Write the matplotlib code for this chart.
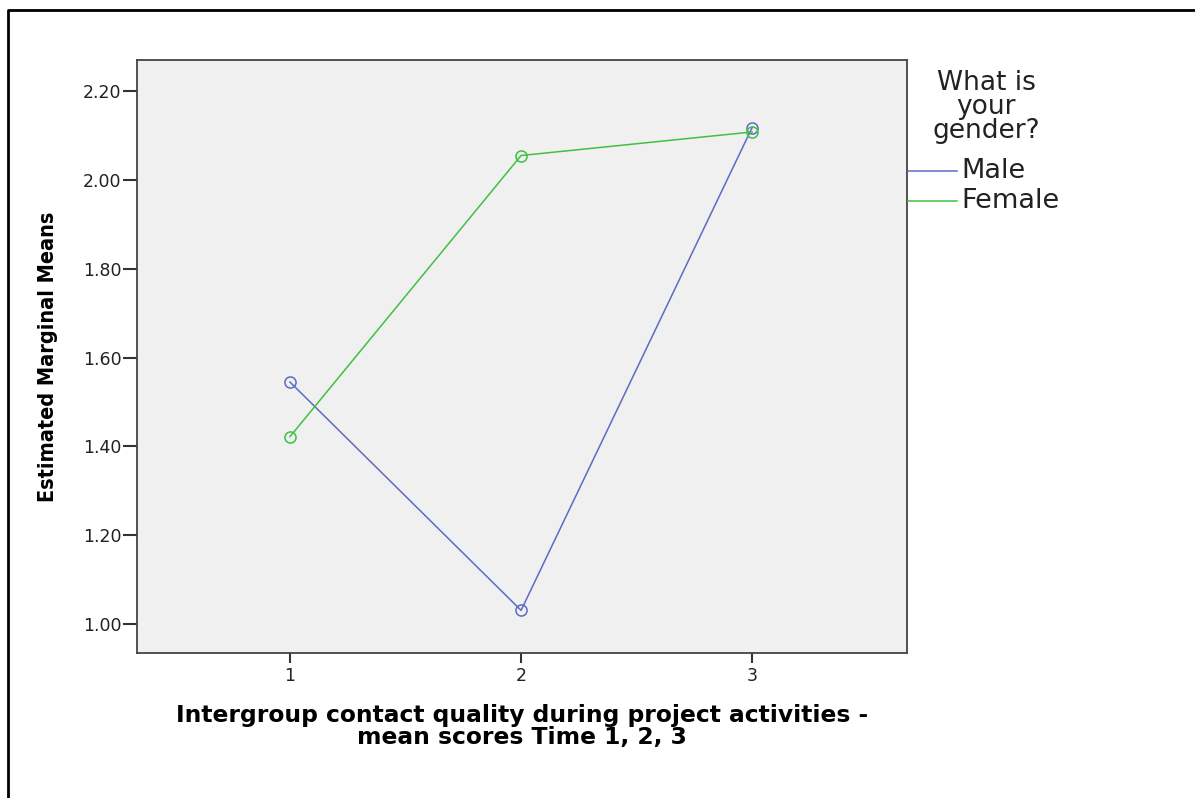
import matplotlib
matplotlib.use('Agg')
import matplotlib.pyplot as plt
from matplotlib.lines import Line2D

times = [1, 2, 3]
male = [1.545, 1.031, 2.118]
female = [1.422, 2.055, 2.108]
series = ['Male', 'Female']
colors = ['#5b6cc4', '#40c040']
yticks = [1.00, 1.20, 1.40, 1.60, 1.80, 2.00, 2.20]

plt.rcParams['font.family'] = ['DejaVu Sans']

fig = plt.figure(figsize=(11.95, 7.98), dpi=100)
ax = fig.add_axes([137/1195, 1-653/798, 770/1195, 593/798])
ax.set_facecolor('#f0f0f0')

for vals, c in zip([male, female], colors):
    ax.plot(times, vals, color=c, lw=1.1, marker='o', ms=8, mfc='none', mec=c, mew=1.1)

ax.set_xlim(0.338, 3.67)
ax.set_ylim(0.935, 2.27)
ax.set_xticks(times)
ax.set_xticklabels([str(t) for t in times])
ax.set_yticks(yticks)
ax.set_yticklabels(['%.2f' % v for v in yticks])
ax.tick_params(axis='both', direction='out', width=1.5, color='#333333',
               labelsize=12.5, labelcolor='#222222', pad=1)
ax.tick_params(axis='y', length=10)
ax.tick_params(axis='x', length=7, pad=3)
for s in ax.spines.values():
    s.set_color('#444444')
    s.set_linewidth(1.3)

ax.set_xlabel('Intergroup contact quality during project activities -\nmean scores Time 1, 2, 3',
              fontsize=16.8, fontweight='bold', labelpad=14, linespacing=0.95)
ax.set_ylabel('Estimated Marginal Means', fontsize=15.5, fontweight='bold',
              fontstretch='condensed', labelpad=18)

# legend drawn beside the axes
fig.text(986/1195, 1-107/798, 'What is\nyour\ngender?', ha='center', va='center',
         fontsize=19, linespacing=0.9, color='#222222')
for i, (name, c) in enumerate(zip(series, colors)):
    y = 1 - (171 + 30*i)/798
    fig.add_artist(Line2D([908/1195, 957/1195], [y, y], color=c, lw=1.1))
    fig.text(961/1195, y, name, ha='left', va='center', fontsize=19.5, color='#222222')

# outer frame
fig.add_artist(Line2D([8/1195, 8/1195, 1.0], [0, 1-10/798, 1-10/798], color='black', lw=2))

fig.savefig('out.png', dpi=100)
